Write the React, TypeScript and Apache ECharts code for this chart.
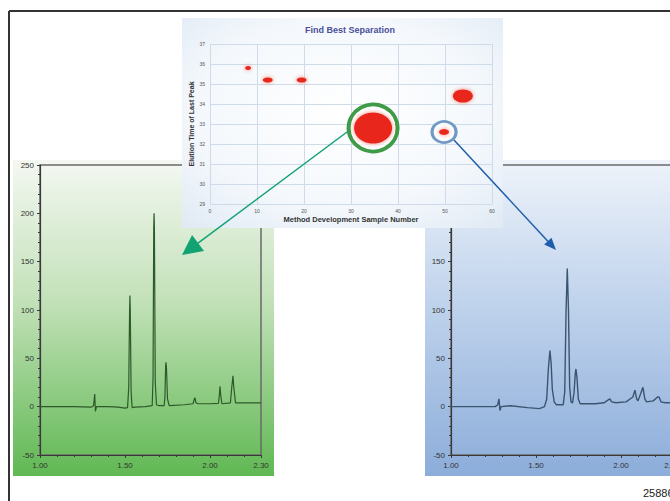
import React, { useEffect, useRef } from "react";
import * as echarts from "echarts";

// Chromatogram traces: [retention time (min), detector response]
const leftTrace: [number, number][] = [
  [1.0, 0], [1.1, 0], [1.2, 0], [1.3, -0.5], [1.315, 1], [1.322, 13], [1.326, -5], [1.332, 0],
  [1.4, 0], [1.46, -0.5], [1.5, -1.5], [1.515, -1], [1.522, 20], [1.527, 100], [1.529, 115],
  [1.531, 100], [1.536, 15], [1.542, -1], [1.56, -0.5], [1.62, 0], [1.66, 1], [1.665, 30],
  [1.669, 185], [1.671, 200], [1.673, 185], [1.678, 25], [1.685, 2], [1.7, 1], [1.73, 1],
  [1.735, 10], [1.739, 42], [1.741, 46], [1.744, 40], [1.75, 8], [1.76, 1], [1.85, 2], [1.9, 3],
  [1.908, 8], [1.912, 9], [1.917, 4], [1.93, 3], [2.0, 3], [2.05, 3.5], [2.055, 12], [2.059, 21],
  [2.063, 12], [2.07, 3], [2.12, 4], [2.128, 20], [2.135, 32], [2.14, 20], [2.15, 4], [2.2, 4],
  [2.3, 4],
];
const rightTrace: [number, number][] = [
  [1.0, 0], [1.1, 0], [1.2, 0], [1.26, 0], [1.275, 2], [1.282, 8], [1.288, -4], [1.295, 0],
  [1.35, 1], [1.45, -1], [1.52, -2], [1.55, 0], [1.563, 8], [1.573, 40], [1.582, 58],
  [1.589, 45], [1.596, 18], [1.607, 5], [1.62, 2], [1.66, 2], [1.669, 15], [1.677, 100],
  [1.684, 143], [1.691, 100], [1.698, 20], [1.706, 5], [1.715, 4], [1.724, 15], [1.731, 34],
  [1.735, 39], [1.741, 30], [1.749, 8], [1.76, 3], [1.85, 3], [1.9, 4], [1.925, 7], [1.935, 8],
  [1.945, 5], [1.97, 4], [2.03, 5], [2.07, 10], [2.082, 17], [2.092, 8], [2.1, 6], [2.115, 13],
  [2.129, 20], [2.14, 8], [2.15, 5], [2.19, 6], [2.215, 10], [2.224, 10], [2.235, 5], [2.26, 4],
  [2.3, 4],
];

// Inset "Find Best Separation" bubble data
const sampleNumbers = [8.1, 12.3, 19.5, 34.7, 53.8, 49.8];
const lastPeakTimes = [35.8, 35.2, 35.2, 32.8, 34.4, 32.6];
const bubbleSizes: [number, number][] = [[6, 4], [10, 5], [10, 5], [38, 31], [20, 13], [10, 6]];
const bestIndex = 3;
const altIndex = 5;

const insetTitle = "Find Best Separation";
const insetXName = "Method Development Sample Number";
const insetYName = "Elution Time of Last Peak";
const figureId = "25886";

function chromAxes(gridIndex: number, hideAbove: number) {
  const axisLine = { show: true, onZero: false, lineStyle: { color: "#3a3a3a", width: 1.2 } };
  const tick = { show: true, length: 3, inside: false, lineStyle: { color: "#3a3a3a" } };
  const minor = { show: true, splitNumber: 5, length: 2, lineStyle: { color: "#3a3a3a" } };
  return {
    x: {
      type: "value", gridIndex, min: 1.0, max: 2.3, interval: 0.5,
      axisLine, axisTick: tick, minorTick: minor, splitLine: { show: false },
      axisLabel: { fontSize: 8, color: "#333", margin: 6, showMaxLabel: true, fontFamily: "Liberation Sans",
        formatter: (v: number) => v.toFixed(2) },
    },
    y: {
      type: "value", gridIndex, min: -50, max: 250, interval: 50,
      axisLine, axisTick: tick, minorTick: minor, splitLine: { show: false },
      axisLabel: { fontSize: 8, color: "#333", margin: 6, fontFamily: "Liberation Sans",
        formatter: (v: number) => (v > hideAbove ? "" : String(v)) },
    },
  };
}

export default function App() {
  const ref = useRef<HTMLDivElement>(null);
  useEffect(() => {
    if (!ref.current) return;
    const chart = echarts.init(ref.current, null, { renderer: "svg" });
    const a0 = chromAxes(0, 1000);
    const a1 = chromAxes(1, 150); // upper labels sit behind the inset panel
    const insetPoints = sampleNumbers.map((x, i) => [x, lastPeakTimes[i]]);

    const arrow = (x1: number, y1: number, x2: number, y2: number, color: string, head: number, half: number) => {
      const dx = x2 - x1, dy = y2 - y1;
      const len = Math.sqrt(dx * dx + dy * dy);
      const ux = dx / len, uy = dy / len;
      const bx = x2 - head * ux, by = y2 - head * uy;
      const nx = -uy, ny = ux;
      return [
        { type: "line", z: 30, shape: { x1, y1, x2: bx, y2: by }, style: { stroke: color, lineWidth: 1.5 } },
        { type: "polygon", z: 30, shape: { points: [[x2, y2], [bx + half * nx, by + half * ny], [bx - half * nx, by - half * ny]] },
          style: { fill: color } },
      ];
    };

    const option: any = {
      animation: false,
      backgroundColor: "#ffffff",
      grid: [
        { left: 40, top: 165, width: 221, height: 290, show: true, borderColor: "#6a6a6a", borderWidth: 1.5, backgroundColor: "transparent", outerBoundsMode: "none", z: 0 },
        { left: 451, top: 165, width: 221, height: 290, show: true, borderColor: "#6a6a6a", borderWidth: 1.5, backgroundColor: "transparent", outerBoundsMode: "none", z: 0 },
        { left: 210, top: 44, width: 282, height: 160, show: false, outerBoundsMode: "none", z: 12 },
      ],
      xAxis: [
        a0.x, a1.x,
        {
          type: "value", gridIndex: 2, min: 0, max: 60, interval: 10, z: 12,
          axisLine: { show: false }, axisTick: { show: false },
          splitLine: { show: true, lineStyle: { color: "#cfdbe8", width: 1 } },
          axisLabel: { fontSize: 5, color: "#555", margin: 4 },
          name: insetXName, nameLocation: "middle", nameGap: 11,
          nameTextStyle: { fontSize: 7.5, fontWeight: "bold", color: "#333", fontFamily: "Liberation Sans" },
        },
      ],
      yAxis: [
        a0.y, a1.y,
        {
          type: "value", gridIndex: 2, min: 29, max: 37, interval: 1, z: 12,
          axisLine: { show: false }, axisTick: { show: false },
          splitLine: { show: true, lineStyle: { color: "#cfdbe8", width: 1 } },
          axisLabel: { fontSize: 5, color: "#555", margin: 5 },
          name: insetYName, nameLocation: "middle", nameGap: 15, nameRotate: 90,
          nameTextStyle: { fontSize: 7, fontWeight: "bold", color: "#333", fontFamily: "Liberation Sans" },
        },
      ],
      series: [
        { type: "line", xAxisIndex: 0, yAxisIndex: 0, data: leftTrace, showSymbol: false, z: 2,
          lineStyle: { color: "#2d5a29", width: 1.2 } },
        { type: "line", xAxisIndex: 1, yAxisIndex: 1, data: rightTrace, showSymbol: false, z: 2,
          lineStyle: { color: "#3b5470", width: 1.4 } },
        { type: "scatter", xAxisIndex: 2, yAxisIndex: 2, z: 20, data: [insetPoints[bestIndex]],
          symbolSize: [49, 47],
          itemStyle: { color: "rgba(255,255,255,0.75)", borderColor: "#3f9b47", borderWidth: 4, opacity: 1 } },
        { type: "scatter", xAxisIndex: 2, yAxisIndex: 2, z: 20, data: [insetPoints[altIndex]],
          symbolSize: [24, 21],
          itemStyle: { color: "rgba(255,255,255,0.75)", borderColor: "#7099c4", borderWidth: 3, opacity: 1 } },
        { type: "scatter", xAxisIndex: 2, yAxisIndex: 2, z: 21, data: insetPoints,
          symbolSize: (_v: any, p: any) => bubbleSizes[p.dataIndex],
          itemStyle: { color: "#e9281d", opacity: 1, shadowBlur: 4, shadowColor: "rgba(245,110,90,0.85)" } },
      ],
      graphic: [
        // panel backgrounds
        { type: "rect", z: -10, shape: { x: 13, y: 160, width: 261, height: 316 },
          style: { fill: { type: "linear", x: 0, y: 0, x2: 0, y2: 1, colorStops: [
            { offset: 0, color: "#f4f8f2" }, { offset: 0.45, color: "#c2e1b8" }, { offset: 1, color: "#60b853" }] } } },
        { type: "rect", z: -10, shape: { x: 425, y: 160, width: 245, height: 316 },
          style: { fill: { type: "linear", x: 0, y: 0, x2: 0, y2: 1, colorStops: [
            { offset: 0, color: "#eef3fa" }, { offset: 0.45, color: "#c0d3ec" }, { offset: 1, color: "#8cadda" }] } } },
        // inset background
        { type: "rect", z: 11, shape: { x: 182, y: 18, width: 321, height: 210 },
          style: { fill: { type: "radial", x: 0.5, y: 0.45, r: 0.75, colorStops: [
            { offset: 0, color: "#ffffff" }, { offset: 0.6, color: "#f4f8fc" }, { offset: 1, color: "#dfe9f4" }] } } },
        { type: "text", z: 13, style: { text: insetTitle, x: 350, y: 30, align: "center", verticalAlign: "middle",
          fontSize: 9, fontWeight: "bold", fill: "#4a4f9c", fontFamily: "Liberation Sans" } },
        // frame
        { type: "line", z: 5, shape: { x1: 9, y1: 11, x2: 670, y2: 11 }, style: { stroke: "#333", lineWidth: 2 } },
        { type: "line", z: 5, shape: { x1: 9, y1: 11, x2: 9, y2: 501 }, style: { stroke: "#333", lineWidth: 2 } },
        ...arrow(347, 132, 182, 255, "#12a274", 20, 10),
        ...arrow(454, 140, 556, 250, "#1f5eac", 12, 5),
        { type: "text", z: 5, style: { text: figureId, x: 643, y: 493, align: "left", verticalAlign: "middle",
          fontSize: 11, fill: "#222", fontFamily: "Liberation Sans" } },
      ],
    };
    chart.setOption(option);
    return () => chart.dispose();
  }, []);
  return <div ref={ref} style={{ position: "absolute", left: 0, top: 0, width: 670, height: 501 }} />;
}
